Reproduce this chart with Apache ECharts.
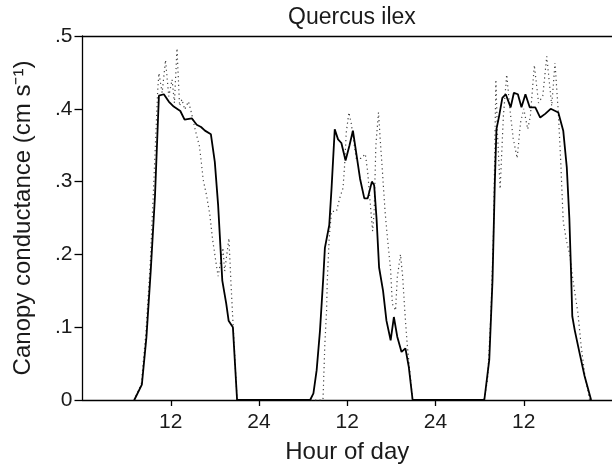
<!DOCTYPE html>
<html>
<head>
<meta charset="utf-8">
<script src="https://cdn.jsdelivr.net/npm/echarts@6/dist/echarts.min.js"></script>
<style>html,body{margin:0;padding:0;background:#fff;}#c{width:612px;height:469px;}</style>
</head>
<body>
<div id="c"></div>
<script>
// ---- data (hour of a 3-day record, canopy conductance cm s-1) ----
const xTickValues = [12, 24, 36, 48, 60];
const xTickLabels = ['12', '24', '12', '24', '12'];
const yTickValues = [0, 0.1, 0.2, 0.3, 0.4, 0.5];
const yTickLabels = ['0', '.1', '.2', '.3', '.4', '.5'];

const solidHours = [
  7.04, 8.07, 8.69, 9.28, 9.86, 10.39, 11.06, 11.73, 12.40, 13.30, 13.88, 14.86, 15.53, 16.12, 16.65, 17.46, 17.99, 18.44, 19.01, 19.55, 19.87, 20.45, 21.02,
  30.95, 31.40, 31.84, 32.29, 32.74, 32.96, 33.55, 33.86, 34.30, 34.75, 35.20, 35.77, 36.31, 36.77, 37.21, 37.74, 38.32, 38.78, 39.35, 39.66, 39.98, 40.33, 40.87, 41.33, 41.90, 42.34, 42.80, 43.38, 43.91, 44.36, 44.89,
  54.64, 55.31, 55.75, 56.07, 56.29, 56.65, 57.09, 57.55, 58.22, 58.66, 59.20, 59.69, 60.23, 60.81, 61.57, 62.24, 62.91, 63.66, 64.70, 65.37, 65.85, 66.20, 66.45, 66.60, 66.93, 67.60, 68.27, 69.16
];
const solidValues = [
  0, 0.021, 0.086, 0.178, 0.281, 0.418, 0.420, 0.410, 0.403, 0.397, 0.385, 0.387, 0.378, 0.375, 0.370, 0.365, 0.327, 0.268, 0.164, 0.132, 0.109, 0.100, 0,
  0, 0.009, 0.041, 0.095, 0.168, 0.209, 0.240, 0.290, 0.372, 0.358, 0.353, 0.329, 0.350, 0.370, 0.340, 0.304, 0.277, 0.277, 0.300, 0.295, 0.250, 0.182, 0.150, 0.109, 0.082, 0.114, 0.087, 0.066, 0.071, 0.046, 0,
  0, 0.055, 0.164, 0.300, 0.372, 0.390, 0.415, 0.420, 0.402, 0.422, 0.420, 0.402, 0.420, 0.402, 0.402, 0.388, 0.393, 0.400, 0.395, 0.370, 0.320, 0.250, 0.170, 0.115, 0.096, 0.064, 0.033, 0
];

const dottedHours = [
  7.0, 8.0, 8.6, 9.2, 9.7, 10.22, 10.39, 10.83, 11.29, 11.73, 12.18, 12.50, 12.85, 13.20, 13.52, 13.90, 14.41, 14.80, 15.31, 15.89, 16.11, 16.42, 16.87, 17.32, 17.67, 18.12, 18.44, 19.10, 19.33, 19.91, 20.22, 20.45, 21.02,
  32.70, 32.96, 33.19, 33.28, 33.55, 33.86, 34.53, 34.97, 35.42, 35.64, 35.87, 36.23, 36.54, 37.21, 37.88, 38.46, 38.78, 39.22, 39.45, 39.66, 39.89, 40.25, 40.47, 40.79, 41.14, 41.46, 41.90, 42.13, 42.57, 42.80, 43.24, 43.55, 43.82, 44.14, 44.50, 44.89,
  54.60, 55.08, 55.54, 55.89, 56.21, 56.42, 56.79, 57.23, 57.68, 58.22, 58.57, 59.11, 59.56, 60.00, 60.54, 60.90, 61.44, 62.01, 62.59, 63.13, 63.80, 64.25, 64.70, 65.01, 65.37, 65.82, 66.26, 66.70, 67.37, 67.82, 68.27, 68.95
];
const dottedValues = [
  0, 0.022, 0.090, 0.185, 0.300, 0.424, 0.449, 0.422, 0.467, 0.417, 0.440, 0.408, 0.483, 0.404, 0.413, 0.399, 0.410, 0.395, 0.372, 0.349, 0.331, 0.302, 0.281, 0.254, 0.222, 0.191, 0.170, 0.209, 0.177, 0.222, 0.154, 0.109, 0,
  0, 0.078, 0.123, 0.163, 0.223, 0.259, 0.259, 0.277, 0.291, 0.322, 0.368, 0.395, 0.380, 0.332, 0.332, 0.338, 0.313, 0.259, 0.232, 0.259, 0.350, 0.395, 0.360, 0.313, 0.259, 0.223, 0.178, 0.132, 0.123, 0.168, 0.200, 0.168, 0.123, 0.078, 0.040, 0,
  0, 0.028, 0.119, 0.232, 0.440, 0.368, 0.290, 0.390, 0.447, 0.390, 0.359, 0.332, 0.381, 0.400, 0.372, 0.390, 0.460, 0.408, 0.418, 0.472, 0.404, 0.463, 0.395, 0.332, 0.245, 0.218, 0.200, 0.164, 0.119, 0.073, 0.037, 0
];

const titleText = 'Quercus ilex';
const xName = 'Hour of day';
const yName = 'Canopy conductance (cm s\u207B\u00B9)';

// ---- chart ----
const FONT = "'Liberation Sans', Arial, sans-serif";
const solidData = solidHours.map((h, i) => [h, solidValues[i]]);
const dottedData = dottedHours.map((h, i) => [h, dottedValues[i]]);

const chart = echarts.init(document.getElementById('c'), null, {renderer: 'canvas'});
chart.setOption({
  animation: false,
  backgroundColor: '#fff',
  title: {
    text: titleText, left: 283, top: 1,
    textStyle: {fontFamily: FONT, fontSize: 23, fontWeight: 'normal', color: '#1a1a1a'}
  },
  grid: {left: 82.5, right: -7.5, top: 36, bottom: 65.5, containLabel: false},
  xAxis: [{
    type: 'value', min: 0, max: 72, interval: 12,
    name: xName, nameLocation: 'middle', nameGap: 40,
    nameTextStyle: {fontFamily: FONT, fontSize: 24, color: '#1a1a1a'},
    axisLine: {show: true, onZero: false, lineStyle: {color: '#000', width: 1.3}},
    axisTick: {show: true, inside: false, length: 6, customValues: xTickValues, lineStyle: {color: '#000', width: 1.3}},
    axisLabel: {
      show: true, margin: 12, customValues: xTickValues,
      formatter: v => xTickLabels[xTickValues.indexOf(v)] || '',
      fontFamily: FONT, fontSize: 21, color: '#1a1a1a'
    },
    splitLine: {show: false}
  }, {
    type: 'value', position: 'top', min: 0, max: 72,
    axisLine: {show: true, onZero: false, lineStyle: {color: '#000', width: 1.3}},
    axisTick: {show: false}, axisLabel: {show: false}, splitLine: {show: false}
  }],
  yAxis: {
    type: 'value', min: 0, max: 0.5, interval: 0.1,
    name: yName, nameLocation: 'middle', nameGap: 47, nameRotate: 90,
    nameTextStyle: {fontFamily: FONT, fontSize: 24, color: '#1a1a1a'},
    axisLine: {show: true, onZero: false, lineStyle: {color: '#000', width: 1.3}},
    axisTick: {show: true, inside: false, length: 8, lineStyle: {color: '#000', width: 1.3}},
    axisLabel: {
      margin: 10,
      formatter: v => yTickLabels[yTickValues.findIndex(t => Math.abs(t - v) < 1e-9)],
      fontFamily: FONT, fontSize: 21, color: '#1a1a1a'
    },
    splitLine: {show: false}
  },
  series: [{
    type: 'line', data: dottedData, symbol: 'none', smooth: false,
    lineStyle: {color: '#444', width: 1.2, type: [1.2, 3.2]}
  }, {
    type: 'line', data: solidData, symbol: 'none', smooth: false,
    lineStyle: {color: '#000', width: 1.8}
  }]
});
</script>
</body>
</html>
